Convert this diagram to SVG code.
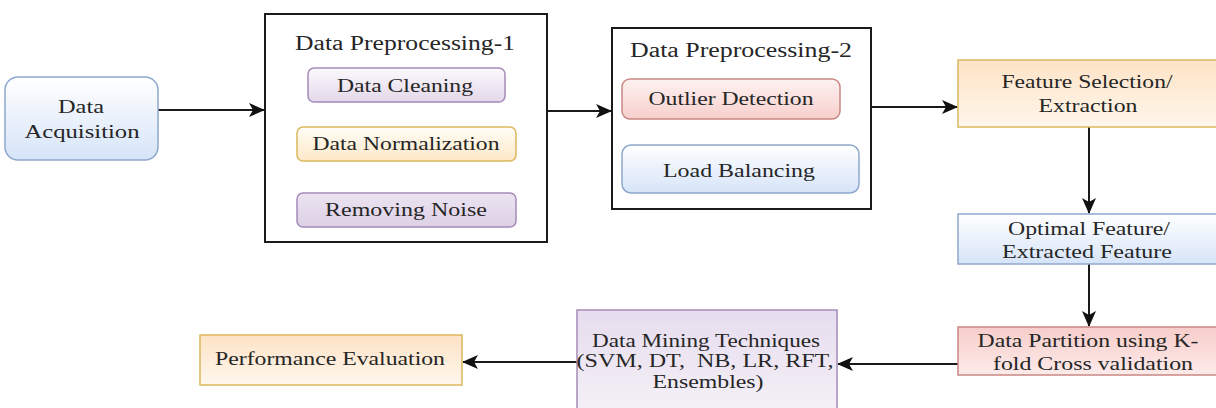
<svg xmlns="http://www.w3.org/2000/svg" width="1216" height="408" viewBox="0 0 1216 408">
  <style>
    text { font-family: "Liberation Serif", "Times New Roman", serif; font-size: 19px; fill: #262626; text-anchor: middle; }
    .title { font-size: 20px; }
    .frame { fill: #ffffff; stroke: #1a1a1a; stroke-width: 2; }
    .blue { fill: url(#gBlue); stroke: #8ea8cc; stroke-width: 1.5; }
    .purple { fill: url(#gPurple); stroke: #a58bb8; stroke-width: 1.5; }
    .purpleDark { fill: url(#gPurpleDark); stroke: #a58bb8; stroke-width: 1.5; }
    .mining { fill: url(#gMining); stroke: #a58bb8; stroke-width: 1.5; }
    .orange { fill: url(#gOrange); stroke: #dcb85e; stroke-width: 1.5; }
    .peach { fill: url(#gPeach); stroke: #dcb85e; stroke-width: 1.5; }
    .red { fill: url(#gRed); stroke: #c98884; stroke-width: 1.5; }
    .redTop { fill: url(#gRedTop); stroke: #c98884; stroke-width: 1.5; }
    .edge { fill: none; stroke: #1a1a1a; stroke-width: 2; marker-end: url(#arrow); }
  </style>
  <defs>
    <linearGradient id="gBlue" x1="0" y1="0" x2="0" y2="1">
      <stop offset="0" stop-color="#ffffff"/>
      <stop offset="1" stop-color="#d6e4f8"/>
    </linearGradient>
    <linearGradient id="gPurple" x1="0" y1="0" x2="0" y2="1">
      <stop offset="0" stop-color="#fbf9fc"/>
      <stop offset="1" stop-color="#e3d8ea"/>
    </linearGradient>
    <linearGradient id="gPurpleDark" x1="0" y1="0" x2="0" y2="1">
      <stop offset="0" stop-color="#ece4f1"/>
      <stop offset="1" stop-color="#ddd0e6"/>
    </linearGradient>
    <linearGradient id="gMining" x1="0" y1="0" x2="0" y2="1">
      <stop offset="0" stop-color="#e6dcee"/>
      <stop offset="1" stop-color="#f6f2f8"/>
    </linearGradient>
    <linearGradient id="gOrange" x1="0" y1="0" x2="0" y2="1">
      <stop offset="0" stop-color="#fffdf6"/>
      <stop offset="1" stop-color="#fde8c8"/>
    </linearGradient>
    <linearGradient id="gPeach" x1="0" y1="0" x2="0" y2="1">
      <stop offset="0" stop-color="#fde3c6"/>
      <stop offset="1" stop-color="#fff6ec"/>
    </linearGradient>
    <linearGradient id="gRed" x1="0" y1="0" x2="0" y2="1">
      <stop offset="0" stop-color="#fdf2f1"/>
      <stop offset="1" stop-color="#f7cfcc"/>
    </linearGradient>
    <linearGradient id="gRedTop" x1="0" y1="0" x2="0" y2="1">
      <stop offset="0" stop-color="#f7cdca"/>
      <stop offset="1" stop-color="#fcebea"/>
    </linearGradient>
    <marker id="arrow" viewBox="0 0 16 14" refX="15" refY="7" markerWidth="16" markerHeight="14" markerUnits="userSpaceOnUse" orient="auto">
      <path d="M0,0 L16,7 L0,14 L4,7 z" fill="#111111"/>
    </marker>
  </defs>

  <!-- connectors -->
  <g id="connectors">
    <line class="edge" x1="158" y1="110" x2="264" y2="110"/>
    <line class="edge" x1="547" y1="111" x2="611" y2="111"/>
    <line class="edge" x1="871" y1="107" x2="957" y2="107"/>
    <line class="edge" x1="1089" y1="127" x2="1089" y2="213"/>
    <line class="edge" x1="1089" y1="264" x2="1089" y2="326"/>
    <line class="edge" x1="958" y1="364" x2="838" y2="364"/>
    <line class="edge" x1="577" y1="362" x2="463" y2="362"/>
  </g>

  <g id="data-acquisition">
    <rect class="blue" x="5" y="77" width="153" height="83" rx="13"/>
    <text x="81" y="113" textLength="46" lengthAdjust="spacingAndGlyphs">Data</text>
    <text x="82" y="138" textLength="115" lengthAdjust="spacingAndGlyphs">Acquisition</text>
  </g>

  <g id="preprocessing-1">
    <rect class="frame" x="265" y="14" width="282" height="228"/>
    <text class="title" x="405" y="50" textLength="220" lengthAdjust="spacingAndGlyphs">Data Preprocessing-1</text>
    <g id="data-cleaning">
      <rect class="purple" x="308" y="68" width="197" height="34" rx="6"/>
      <text x="405" y="92" textLength="136" lengthAdjust="spacingAndGlyphs">Data Cleaning</text>
    </g>
    <g id="data-normalization">
      <rect class="orange" x="297" y="127" width="219" height="34" rx="6"/>
      <text x="406" y="150" textLength="187" lengthAdjust="spacingAndGlyphs">Data Normalization</text>
    </g>
    <g id="removing-noise">
      <rect class="purpleDark" x="297" y="193" width="219" height="34" rx="6"/>
      <text x="406" y="216" textLength="162" lengthAdjust="spacingAndGlyphs">Removing Noise</text>
    </g>
  </g>

  <g id="preprocessing-2">
    <rect class="frame" x="612" y="28" width="259" height="181"/>
    <text class="title" x="741" y="57" textLength="222" lengthAdjust="spacingAndGlyphs">Data Preprocessing-2</text>
    <g id="outlier-detection">
      <rect class="red" x="622" y="79" width="218" height="40" rx="8"/>
      <text x="731" y="105" textLength="165" lengthAdjust="spacingAndGlyphs">Outlier Detection</text>
    </g>
    <g id="load-balancing">
      <rect class="blue" x="622" y="145" width="237" height="48" rx="9"/>
      <text x="739" y="177" textLength="152" lengthAdjust="spacingAndGlyphs">Load Balancing</text>
    </g>
  </g>

  <g id="feature-selection">
    <rect class="peach" x="958" y="60" width="264" height="67"/>
    <text x="1087" y="88" textLength="171" lengthAdjust="spacingAndGlyphs">Feature Selection/</text>
    <text x="1088" y="112" textLength="99" lengthAdjust="spacingAndGlyphs">Extraction</text>
  </g>

  <g id="optimal-feature">
    <rect class="blue" x="958" y="214" width="264" height="50"/>
    <text x="1089" y="235" textLength="162" lengthAdjust="spacingAndGlyphs">Optimal Feature/</text>
    <text x="1087" y="258" textLength="170" lengthAdjust="spacingAndGlyphs">Extracted Feature</text>
  </g>

  <g id="data-partition">
    <rect class="redTop" x="958" y="327" width="264" height="48"/>
    <text x="1088" y="347" textLength="221" lengthAdjust="spacingAndGlyphs">Data Partition using K-</text>
    <text x="1093" y="370" textLength="200" lengthAdjust="spacingAndGlyphs">fold Cross validation</text>
  </g>

  <g id="data-mining">
    <rect class="mining" x="577" y="310" width="260" height="110"/>
    <text x="706" y="347" textLength="228" lengthAdjust="spacingAndGlyphs">Data Mining Techniques</text>
    <text x="705" y="367" textLength="257" lengthAdjust="spacingAndGlyphs" xml:space="preserve">(SVM, DT,  NB, LR, RFT,</text>
    <text x="708" y="388" textLength="111" lengthAdjust="spacingAndGlyphs">Ensembles)</text>
  </g>

  <g id="performance-evaluation">
    <rect class="peach" x="200" y="335" width="262" height="50"/>
    <text x="330" y="365" textLength="230" lengthAdjust="spacingAndGlyphs">Performance Evaluation</text>
  </g>
</svg>
